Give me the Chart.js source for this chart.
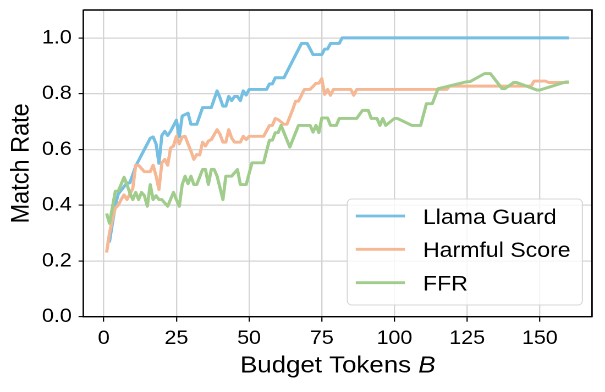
<!DOCTYPE html>
<html>
<head>
<meta charset="utf-8">
<script src="https://cdn.jsdelivr.net/npm/chart.js@4"></script>
<style>
html, body { margin: 0; padding: 0; background: #fff; overflow: hidden; }
/* the reference figure is a little wider than its fonts suggest, so stretch it */
#wrap { width: 550px; height: 392px; transform: scaleX(1.1); transform-origin: 0 0; }
</style>
</head>
<body>
<div id="wrap"><canvas id="chart"></canvas></div>
<script>
// budget tokens where each curve changes, and the match rate there
const llamaX = [1, 2, 4, 5, 8, 9, 11, 12, 14, 16, 17, 18, 19, 20, 21, 22, 23, 24, 25, 26, 27, 29, 30, 32, 34, 37, 39, 40, 41, 42, 43, 44, 45, 46, 47, 48, 49, 50, 56, 57, 58, 59, 62, 68, 70, 72, 75, 76, 77, 78, 81, 82, 160];
const llamaY = [0.27, 0.27, 0.40, 0.44, 0.48, 0.48, 0.54, 0.56, 0.60, 0.64, 0.645, 0.62, 0.55, 0.65, 0.665, 0.65, 0.665, 0.685, 0.705, 0.645, 0.72, 0.73, 0.69, 0.69, 0.75, 0.75, 0.81, 0.785, 0.755, 0.755, 0.79, 0.775, 0.79, 0.79, 0.775, 0.81, 0.795, 0.815, 0.815, 0.835, 0.835, 0.857, 0.857, 0.98, 0.98, 0.94, 0.94, 0.96, 0.96, 0.98, 0.98, 1.0, 1.0];

const harmfulX = [1, 2, 3, 4, 5, 6, 7, 8, 9, 10, 11, 12, 14, 16, 17, 18, 19, 20, 21, 22, 23, 24, 25, 26, 27, 28, 29, 30, 31, 32, 33, 34, 35, 36, 37, 39, 40, 41, 42, 43, 44, 45, 47, 48, 49, 50, 55, 57, 58, 59, 60, 62, 63, 65, 66, 67, 69, 71, 73, 74, 75, 76, 77, 78, 79, 85, 86, 87, 118, 119, 147, 148, 152, 153, 160];
const harmfulY = [0.23, 0.30, 0.35, 0.39, 0.40, 0.42, 0.437, 0.42, 0.44, 0.46, 0.543, 0.543, 0.52, 0.52, 0.543, 0.505, 0.456, 0.552, 0.564, 0.543, 0.605, 0.612, 0.647, 0.62, 0.645, 0.647, 0.62, 0.594, 0.564, 0.582, 0.58, 0.626, 0.612, 0.63, 0.635, 0.671, 0.654, 0.626, 0.626, 0.671, 0.641, 0.626, 0.626, 0.647, 0.635, 0.647, 0.647, 0.686, 0.686, 0.711, 0.707, 0.69, 0.69, 0.743, 0.773, 0.773, 0.815, 0.815, 0.837, 0.837, 0.854, 0.797, 0.815, 0.794, 0.815, 0.815, 0.794, 0.815, 0.815, 0.827, 0.827, 0.845, 0.845, 0.84, 0.84];

const ffrX = [1, 2, 4, 5, 7, 8, 9, 10, 11, 12, 13, 14, 15, 16, 17, 18, 19, 20, 22, 24, 25, 26, 27, 28, 29, 30, 31, 32, 34, 35, 36, 37, 38, 39, 41, 42, 44, 46, 47, 49, 51, 55, 56, 57, 58, 59, 60, 61, 64, 67, 71, 72, 73, 74, 75, 77, 78, 80, 81, 87, 89, 91, 92, 94, 95, 96, 97, 100, 101, 106, 109, 111, 113, 115, 125, 126, 131, 133, 137, 138, 141, 142, 149, 150, 159, 160];
const ffrY = [0.37, 0.335, 0.45, 0.45, 0.50, 0.474, 0.444, 0.42, 0.446, 0.42, 0.446, 0.434, 0.396, 0.474, 0.42, 0.434, 0.42, 0.42, 0.396, 0.446, 0.42, 0.396, 0.474, 0.504, 0.477, 0.504, 0.474, 0.474, 0.528, 0.528, 0.474, 0.528, 0.528, 0.504, 0.42, 0.504, 0.504, 0.528, 0.474, 0.474, 0.552, 0.552, 0.594, 0.633, 0.633, 0.66, 0.66, 0.686, 0.608, 0.686, 0.686, 0.662, 0.686, 0.66, 0.713, 0.713, 0.686, 0.686, 0.711, 0.711, 0.74, 0.74, 0.711, 0.711, 0.686, 0.711, 0.686, 0.711, 0.711, 0.686, 0.686, 0.764, 0.764, 0.818, 0.843, 0.843, 0.872, 0.872, 0.818, 0.818, 0.84, 0.84, 0.813, 0.813, 0.842, 0.842, 0.813];

const seriesNames = ['Llama Guard', 'Harmful Score', 'FFR'];
const seriesColors = ['#74bfe2', '#f5b794', '#a0cc8c'];
const xTicks = [0, 25, 50, 75, 100, 125, 150];
const yTicks = [0, 0.2, 0.4, 0.6, 0.8, 1.0];

const FONT = '"Liberation Sans", Arial, Helvetica, sans-serif';
Chart.defaults.font.family = FONT;
Chart.defaults.color = '#000';

function pts(xs, ys) {
    return xs.map((x, i) => ({x: x, y: ys[i]}));
}

const extras = {
    id: 'extras',
    afterDraw(chart) {
        const ctx = chart.ctx, a = chart.chartArea;
        ctx.save();

        // top and right spines (bottom/left come from the axis borders)
        ctx.strokeStyle = '#000000';
        ctx.lineWidth = 1.4;
        ctx.beginPath();
        ctx.moveTo(a.left, a.top);
        ctx.lineTo(a.right, a.top);
        ctx.lineTo(a.right, a.bottom);
        ctx.stroke();

        // legend, lower right inside the plot
        ctx.beginPath();
        ctx.roundRect(315.7, 199, 213.7, 106, 4);
        ctx.fillStyle = 'rgba(255,255,255,0.8)';
        ctx.fill();
        ctx.strokeStyle = '#d6d6d6';
        ctx.lineWidth = 1;
        ctx.stroke();
        const rows = [216, 249.3, 282.7];
        ctx.font = '21px ' + FONT;
        ctx.textBaseline = 'alphabetic';
        ctx.textAlign = 'left';
        seriesNames.forEach((name, i) => {
            ctx.strokeStyle = seriesColors[i];
            ctx.lineWidth = 2.8;
            ctx.beginPath();
            ctx.moveTo(323.4, rows[i]);
            ctx.lineTo(368.2, rows[i]);
            ctx.stroke();
            ctx.fillStyle = '#000';
            ctx.fillText(name, 384.5, rows[i] + 7.8);
        });

        // axis titles
        const cx = (a.left + a.right) / 2;
        ctx.font = '23.5px ' + FONT;
        const w1 = ctx.measureText('Budget Tokens ').width;
        ctx.font = 'italic 23.5px ' + FONT;
        const w2 = ctx.measureText('B').width;
        const x0 = cx - (w1 + w2) / 2;
        ctx.font = '23.5px ' + FONT;
        ctx.fillText('Budget Tokens ', x0, 372.3);
        ctx.font = 'italic 23.5px ' + FONT;
        ctx.fillText('B', x0 + w1, 372.3);

        ctx.translate(26, (a.top + a.bottom) / 2);
        ctx.rotate(-Math.PI / 2);
        ctx.font = '23.5px ' + FONT;
        ctx.textAlign = 'center';
        ctx.fillText('Match Rate', 0, 0);
        ctx.restore();
    }
};

const datasets = [pts(llamaX, llamaY), pts(harmfulX, harmfulY), pts(ffrX, ffrY)].map((d, i) => ({
    label: seriesNames[i],
    data: d,
    borderColor: seriesColors[i],
    backgroundColor: seriesColors[i],
    borderWidth: 2.9,
    borderJoinStyle: 'round',
    pointRadius: 0,
    tension: 0,
    order: 2 - i
}));

new Chart(document.getElementById('chart'), {
    type: 'line',
    data: {datasets: datasets},
    options: {
        responsive: true,
        maintainAspectRatio: false,
        devicePixelRatio: 2,
        animation: false,
        layout: {padding: {top: 10, right: 11.8, left: 0, bottom: 0}},
        plugins: {legend: {display: false}, tooltip: {enabled: false}},
        scales: {
            x: {
                type: 'linear',
                min: -6.95,
                max: 167.95,
                afterBuildTicks: s => { s.ticks = xTicks.map(v => ({value: v})); },
                afterFit: s => { s.height = 75.3; s.paddingLeft = 0; s.paddingRight = 0; },
                grid: {color: '#d4d4d4', lineWidth: 1.2, drawTicks: true, tickLength: 5, tickColor: '#000', tickWidth: 1.1},
                border: {display: true, color: '#000', width: 1.4},
                ticks: {font: {size: 19.5}, padding: 5, maxRotation: 0, autoSkip: false}
            },
            y: {
                min: 0,
                max: 1.1,
                afterBuildTicks: s => { s.ticks = yTicks.map(v => ({value: v})); },
                afterFit: s => { s.width = 75.9; s.paddingTop = 0; s.paddingBottom = 0; },
                grid: {color: '#d4d4d4', lineWidth: 1.2, drawTicks: true, tickLength: 4.5, tickColor: '#000', tickWidth: 1.1},
                border: {display: true, color: '#000', width: 1.4},
                ticks: {font: {size: 19.5}, padding: 6.2, callback: v => v.toFixed(1), autoSkip: false}
            }
        }
    },
    plugins: [extras]
});
</script>
</body>
</html>
